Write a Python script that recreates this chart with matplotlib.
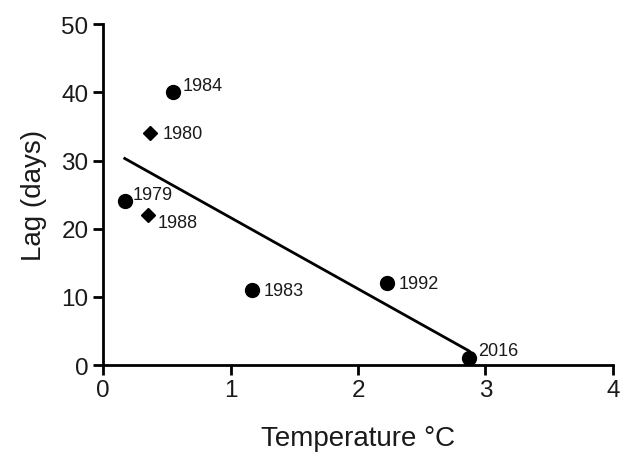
import numpy as np
import matplotlib
matplotlib.use("Agg")
import matplotlib.pyplot as plt

plt.rcParams['font.family'] = ['Liberation Sans', 'DejaVu Sans']

# Data
circle_years = ["1979", "1984", "1983", "1992", "2016"]
circle_temp = [0.17, 0.55, 1.17, 2.23, 2.87]
circle_lag = [24, 40, 11, 12, 1]

diamond_years = ["1980", "1988"]
diamond_temp = [0.37, 0.35]
diamond_lag = [34, 22]

label_offsets = {  # pixel offsets of year labels (points)
    "1979": (6, 5), "1984": (7, 5), "1983": (8, 0), "1992": (8, 0),
    "2016": (7, 6), "1980": (9, 0), "1988": (7, -5),
}

fig = plt.figure(figsize=(6.21, 4.56), dpi=100)
ax = fig.add_axes([0.166, 0.197, 0.821, 0.748])

# regression line over all points
all_x = np.array(circle_temp + diamond_temp)
all_y = np.array(circle_lag + diamond_lag)
slope, intercept = np.polyfit(all_x, all_y, 1)
xl = np.array([all_x.min(), all_x.max()])
ax.plot(xl, slope * xl + intercept, color='black', lw=2.0, zorder=2)

ax.plot(circle_temp, circle_lag, 'o', color='black', markersize=10, zorder=3, clip_on=False)
ax.plot(diamond_temp, diamond_lag, 'D', color='black', markersize=7, zorder=3, clip_on=False)

for yr, x, y in zip(circle_years + diamond_years, circle_temp + diamond_temp, circle_lag + diamond_lag):
    dx, dy = label_offsets[yr]
    ax.annotate(yr, (x, y), xytext=(dx, dy), textcoords='offset points',
                ha='left', va='center', fontsize=13, color='#1a1a1a')

ax.set_xlim(0, 4)
ax.set_ylim(0, 50)
ax.set_xticks([0, 1, 2, 3, 4])
ax.set_yticks([0, 10, 20, 30, 40, 50])
ax.spines['top'].set_visible(False)
ax.spines['right'].set_visible(False)
for s in ['left', 'bottom']:
    ax.spines[s].set_linewidth(2)
ax.tick_params(axis='both', width=2, length=7, labelsize=17.5, color='black', labelcolor='#1a1a1a')
ax.tick_params(axis='x', pad=3)
ax.set_xlabel("Temperature \u00b0C", fontsize=20, labelpad=17, color='#1a1a1a')
ax.set_ylabel("Lag (days)", fontsize=20, labelpad=10, color='#1a1a1a')

fig.savefig("out.png", dpi=100)
